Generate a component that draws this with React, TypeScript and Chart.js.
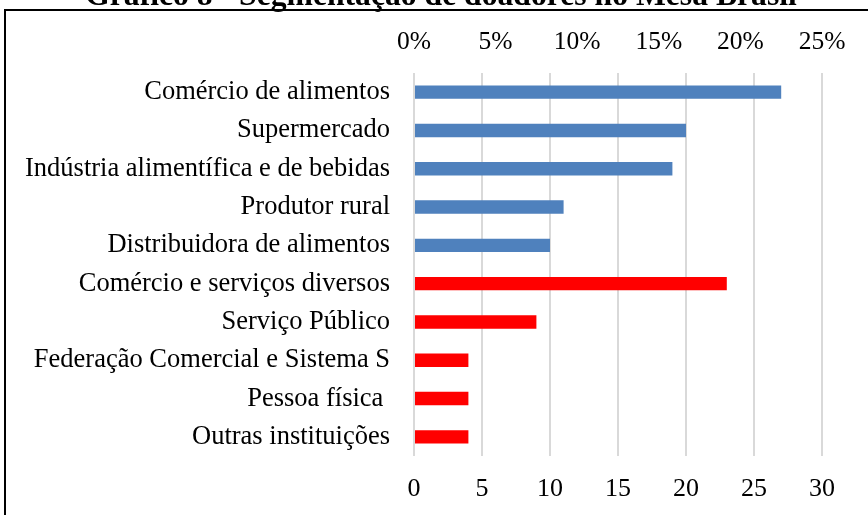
import React, { useEffect, useRef } from "react";
import { Chart, registerables } from "chart.js";

Chart.register(...registerables);

const chartTitle = "Gráfico 8 - Segmentação de doadores no Mesa Brasil";

const categories = [
  "Comércio de alimentos",
  "Supermercado",
  "Indústria alimentífica e de bebidas",
  "Produtor rural",
  "Distribuidora de alimentos",
  "Comércio e serviços diversos",
  "Serviço Público",
  "Federação Comercial e Sistema S",
  "Pessoa física ",
  "Outras instituições",
];

const values = [27, 20, 19, 11, 10, 23, 9, 4, 4, 4];

const groups = [
  "alimentos",
  "alimentos",
  "alimentos",
  "alimentos",
  "alimentos",
  "outros",
  "outros",
  "outros",
  "outros",
  "outros",
];

const topTickLabels = ["0%", "5%", "10%", "15%", "20%", "25%"];
const bottomTickLabels = ["0", "5", "10", "15", "20", "25", "30"];

const groupColors: Record<string, string> = {
  alimentos: "#4f81bd",
  outros: "#ff0000",
};

const FONT = '"Liberation Serif", "Times New Roman", serif';

const framePlugin = {
  id: "frameAndTitle",
  afterDraw(chart: any) {
    const ctx = chart.ctx as CanvasRenderingContext2D;
    ctx.save();
    ctx.strokeStyle = "#000";
    ctx.lineWidth = 2;
    ctx.strokeRect(5, 10, 3000, 3000);
    ctx.font = `bold 100px ${FONT}`;
    const w = ctx.measureText(chartTitle).width;
    const size = (100 * 712) / w;
    ctx.font = `bold ${size}px ${FONT}`;
    ctx.fillStyle = "#000";
    ctx.textAlign = "center";
    ctx.textBaseline = "alphabetic";
    ctx.fillText(chartTitle, 441, 5);
    ctx.restore();
  },
};

export default function App() {
  const ref = useRef<HTMLCanvasElement | null>(null);

  useEffect(() => {
    if (!ref.current) return;
    const chart = new Chart(ref.current, {
      type: "bar",
      data: {
        labels: categories,
        datasets: [
          {
            data: values,
            backgroundColor: groups.map((g) => groupColors[g]),
            categoryPercentage: 1,
            barPercentage: 0.35,
            xAxisID: "x",
          },
        ],
      },
      options: {
        indexAxis: "y",
        animation: false,
        responsive: false,
        layout: { padding: { left: 0, right: 46, top: 0, bottom: 0 } },
        plugins: {
          legend: { display: false },
          title: { display: false },
          tooltip: { enabled: false },
        },
        scales: {
          x: {
            type: "linear",
            position: "bottom",
            min: 0,
            max: 30,
            ticks: {
              stepSize: 5,
              color: "#000",
              padding: 18,
              font: { family: FONT, size: 26 },
              callback: (_v: any, i: number) => bottomTickLabels[i],
            },
            grid: { color: "#d9d9d9", lineWidth: 2, drawTicks: false },
            border: { display: false },
            afterFit: (s: any) => {
              s.height = 59;
            },
          },
          x2: {
            type: "linear",
            axis: "x",
            position: "top",
            min: 0,
            max: 25,
            ticks: {
              stepSize: 5,
              color: "#000",
              padding: 15,
              font: { family: FONT, size: 25.5 },
              callback: (_v: any, i: number) => topTickLabels[i],
            },
            grid: { display: false, drawTicks: false },
            border: { display: false },
            afterFit: (s: any) => {
              s.height = 73;
            },
          },
          y: {
            ticks: {
              color: "#000",
              padding: 24,
              font: { family: FONT, size: 26.5 },
            },
            grid: { display: false, drawTicks: false },
            border: { display: false },
            afterFit: (s: any) => {
              s.width = 414;
            },
          },
        },
      },
      plugins: [framePlugin],
    } as any);
    return () => chart.destroy();
  }, []);

  return (
    <div
      style={{
        position: "fixed",
        left: 0,
        top: 0,
        width: 868,
        height: 515,
        background: "#fff",
      }}
    >
      <canvas ref={ref} width={868} height={515} style={{ display: "block" }} />
    </div>
  );
}
